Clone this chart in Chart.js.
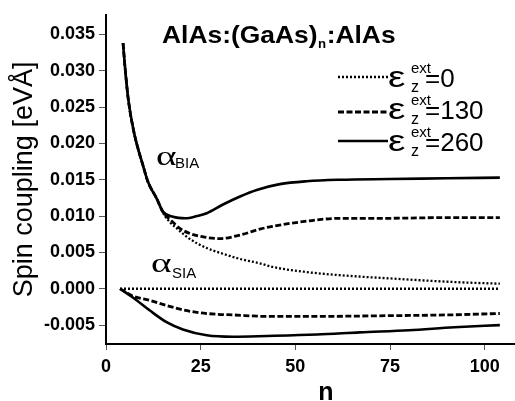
<!DOCTYPE html>
<html>
<head>
<meta charset="utf-8">
<script src="https://cdn.jsdelivr.net/npm/chart.js@4"></script>
<style>
html,body{margin:0;padding:0;background:#fff;}
#wrap{width:515px;height:401px;position:relative;}
</style>
</head>
<body>
<div id="wrap"><canvas id="c"></canvas></div>
<script>
// ---- tick labels ----
const xTickValues = [0, 25, 50, 75, 100];
const yTickValues = [-0.005, 0.000, 0.005, 0.010, 0.015, 0.020, 0.025, 0.030, 0.035];

// ---- alpha_BIA curves ----
const nBia260 = [4.5, 5.0, 5.9, 7.4, 9.8, 11.1, 13.4, 15.1, 17.7, 21, 24, 26.6, 30.9, 35.4, 39.8, 45.9, 53, 61.7, 75, 90, 104];
const bia260  = [0.0338, 0.0306, 0.0260, 0.0215, 0.0169, 0.0147, 0.0124, 0.0106, 0.0099, 0.0097, 0.0100, 0.0104, 0.0116, 0.0127, 0.0136, 0.0144, 0.0148, 0.0150, 0.0151, 0.0152, 0.0153];

const nBia130 = [4.5, 5.0, 5.9, 7.4, 9.8, 11.1, 13.4, 15.1, 17.4, 19.5, 22.2, 26, 30, 35.4, 40.6, 44, 53, 61.7, 75, 90, 104];
const bia130  = [0.0338, 0.0306, 0.0260, 0.0215, 0.0169, 0.0147, 0.0124, 0.0105, 0.0093, 0.0083, 0.0076, 0.0071, 0.0069, 0.0074, 0.0082, 0.0086, 0.0093, 0.0097, 0.0097, 0.0098, 0.0098];

const nBia0 = [4.5, 5.0, 5.9, 7.4, 9.8, 11.1, 13.4, 15.1, 17, 18.7, 22, 26.6, 31, 35.4, 40.6, 44, 53, 61, 75.7, 93, 104];
const bia0  = [0.0338, 0.0306, 0.0260, 0.0215, 0.0169, 0.0147, 0.0124, 0.0104, 0.0091, 0.0083, 0.0069, 0.0056, 0.0048, 0.0041, 0.0035, 0.0030, 0.0023, 0.0019, 0.0014, 0.0009, 0.0007];

// ---- alpha_SIA curves ----
const nSia260 = [3.7, 7.1, 11.6, 16, 20.3, 26.6, 33.5, 42.5, 55.7, 67, 80, 92, 104];
const sia260  = [0.0000, -0.0012, -0.0030, -0.0046, -0.0056, -0.0064, -0.0066, -0.0065, -0.0063, -0.0060, -0.0057, -0.0053, -0.0050];

const nSia130 = [3.7, 7.1, 11.6, 16, 20.3, 24.8, 29, 33.5, 42.5, 55.7, 75, 90, 104];
const sia130  = [0.0000, -0.0010, -0.0016, -0.0023, -0.0029, -0.0033, -0.0035, -0.0036, -0.0038, -0.0038, -0.0037, -0.0036, -0.0034];

const nSia0 = [3.7, 20, 50, 80, 104];
const sia0  = [0.0000, 0.0000, 0.0000, 0.0000, 0.0000];

// ---- legend / labels ----
const titleParts = ['AlAs:(GaAs)', 'n', ':AlAs'];
const legendValues = ['0', '130', '260'];
const yTitle = 'Spin coupling [eVÅ]';
const xTitle = 'n';

const FONT = "'Liberation Sans', Arial, Helvetica, sans-serif";
Chart.defaults.font.family = FONT;
Chart.defaults.color = '#000';

const pts = (xs, ys) => xs.map((x, i) => ({x: x, y: ys[i]}));

const styleDotted = {borderDash: [2, 2], borderWidth: 2.3};
const styleDashed = {borderDash: [6, 2.5], borderWidth: 2.8};
const styleSolid  = {borderDash: [], borderWidth: 2.6};

function ds(label, xs, ys, st) {
  return Object.assign({
    label: label,
    data: pts(xs, ys),
    borderColor: '#000',
    backgroundColor: '#000',
    pointRadius: 0,
    fill: false,
    cubicInterpolationMode: 'monotone'
  }, st);
}

const annot = {
  id: 'annot',
  afterDraw(chart) {
    const ctx = chart.ctx;
    ctx.save();
    ctx.fillStyle = '#000';
    ctx.strokeStyle = '#000';
    ctx.textBaseline = 'alphabetic';
    ctx.textAlign = 'left';

    // title
    ctx.save();
    ctx.translate(162, 43);
    ctx.scale(1.1, 1);
    let x = 0;
    ctx.font = 'bold 24px ' + FONT;
    ctx.fillText(titleParts[0], x, 0);
    x += ctx.measureText(titleParts[0]).width;
    ctx.font = 'bold 12px ' + FONT;
    ctx.fillText(titleParts[1], x + 0.5, 5);
    x += ctx.measureText(titleParts[1]).width + 1;
    ctx.font = 'bold 24px ' + FONT;
    ctx.fillText(titleParts[2], x, 0);
    ctx.restore();

    // legend
    const rowsBase = [87, 119, 151];
    const rowsLine = [77, 112, 141];
    const styles = [styleDotted, styleDashed, styleSolid];
    for (let i = 0; i < 3; i++) {
      ctx.beginPath();
      ctx.lineWidth = styles[i].borderWidth;
      ctx.setLineDash(styles[i].borderDash);
      ctx.moveTo(338, rowsLine[i]);
      ctx.lineTo(388, rowsLine[i]);
      ctx.stroke();
      ctx.setLineDash([]);
      const b = rowsBase[i];
      // epsilon
      ctx.save();
      ctx.translate(388, b);
      ctx.scale(1.3, 1);
      ctx.font = '30px ' + FONT;
      ctx.fillText('ε', 0, 0);
      ctx.restore();
      ctx.font = '15px ' + FONT;
      ctx.fillText('ext', 411, b - 14);
      ctx.font = '16px ' + FONT;
      ctx.fillText('z', 411, b + 5);
      ctx.font = '26px ' + FONT;
      ctx.fillText('=' + legendValues[i], 425, b);
    }

    // alpha labels
    const alpha = (ax, ab, sub, sx, sb) => {
      ctx.save();
      ctx.translate(ax, ab);
      ctx.scale(1.4, 1);
      ctx.font = "28px 'Liberation Serif', 'Times New Roman', serif";
      ctx.fillText('α', 0, 0);
      ctx.restore();
      ctx.font = '15px ' + FONT;
      ctx.fillText(sub, sx, sb);
    };
    alpha(156, 165, 'BIA', 175, 168);
    alpha(151, 272, 'SIA', 172, 278);

    // x title
    ctx.font = 'bold 25px ' + FONT;
    ctx.textAlign = 'center';
    ctx.fillText(xTitle, 326, 400);
    ctx.restore();
  }
};

new Chart(document.getElementById('c'), {
  type: 'line',
  data: {
    datasets: [
      ds('BIA ε=0', nBia0, bia0, styleDotted),
      ds('BIA ε=130', nBia130, bia130, styleDashed),
      ds('BIA ε=260', nBia260, bia260, styleSolid),
      ds('SIA ε=0', nSia0, sia0, styleDotted),
      ds('SIA ε=130', nSia130, sia130, styleDashed),
      ds('SIA ε=260', nSia260, sia260, styleSolid)
    ]
  },
  options: {
    responsive: true,
    maintainAspectRatio: false,
    animation: false,
    layout: {padding: {top: 10, right: 0, bottom: 0, left: 0}},
    plugins: {legend: {display: false}, tooltip: {enabled: false}, title: {display: false}},
    scales: {
      x: {
        type: 'linear',
        min: 0, max: 108,
        afterBuildTicks: s => { s.ticks = xTickValues.map(v => ({value: v})); },
        afterFit: s => { s.height = 57; },
        border: {display: true, color: '#000', width: 2},
        grid: {drawOnChartArea: false, drawTicks: true, tickLength: 6, color: '#555', lineWidth: 1},
        ticks: {font: {size: 18, weight: 'bold'}, padding: 6, color: '#000', maxRotation: 0,
                callback: v => String(v)}
      },
      y: {
        type: 'linear',
        min: -0.0076, max: 0.0377,
        afterBuildTicks: s => { s.ticks = yTickValues.map(v => ({value: v})); },
        afterFit: s => { s.width = 106; },
        border: {display: true, color: '#000', width: 2},
        grid: {drawOnChartArea: false, drawTicks: true, tickLength: 7, color: '#555', lineWidth: 1},
        ticks: {font: {size: 18, weight: 'bold'}, padding: 4, color: '#000',
                callback: v => (Math.abs(v) < 1e-9 ? 0 : v).toFixed(3)},
        title: {display: true, text: yTitle, font: {size: 27, weight: 'normal'}, color: '#000',
                padding: {top: 8, bottom: 0}}
      }
    }
  },
  plugins: [annot]
});
</script>
</body>
</html>
